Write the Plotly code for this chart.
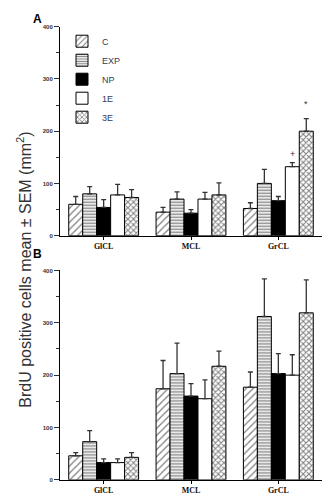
import plotly.graph_objects as go

categories = ["GlCL", "MCL", "GrCL"]
groups = ["C", "EXP", "NP", "1E", "3E"]

# Panel A: means and upper SEM
a_mean = {
    "C":   [60, 45, 52],
    "EXP": [80, 70, 100],
    "NP":  [54, 43, 67],
    "1E":  [78, 70, 132],
    "3E":  [73, 78, 200],
}
a_sem = {
    "C":   [15, 9, 11],
    "EXP": [14, 14, 27],
    "NP":  [15, 7, 8],
    "1E":  [20, 13, 8],
    "3E":  [15, 23, 24],
}
# Panel B
b_mean = {
    "C":   [46, 174, 177],
    "EXP": [73, 203, 312],
    "NP":  [33, 160, 203],
    "1E":  [33, 155, 200],
    "3E":  [43, 217, 319],
}
b_sem = {
    "C":   [6, 54, 29],
    "EXP": [21, 58, 72],
    "NP":  [7, 24, 38],
    "1E":  [7, 36, 39],
    "3E":  [9, 29, 63],
}

# significance marks in panel A (GrCL)
sig_groups = ["1E", "3E"]
sig_marks = ["+", "*"]
sig_y = [157, 252]

y_ticks = [0, 100, 200, 300, 400]

patterns = {
    "C":   dict(shape="/", fgcolor="black", bgcolor="white", size=5, solidity=0.25),
    "EXP": dict(shape="-", fgcolor="black", bgcolor="white", size=3, solidity=0.45),
    "NP":  dict(shape="", fgcolor="black", bgcolor="black"),
    "1E":  dict(shape="", fgcolor="white", bgcolor="white"),
    "3E":  dict(shape="x", fgcolor="black", bgcolor="white", size=4, solidity=0.45),
}
fills = {"C": "white", "EXP": "white", "NP": "black", "1E": "white", "3E": "white"}

W, H = 323, 497
fig = go.Figure()

for panel, (means, sems, xa, ya) in enumerate([(a_mean, a_sem, "x", "y"), (b_mean, b_sem, "x2", "y2")]):
    for g in groups:
        fig.add_trace(go.Bar(
            x=categories, y=means[g], name=g, xaxis=xa, yaxis=ya,
            showlegend=(panel == 0), legendgroup=g,
            marker=dict(color=fills[g], pattern=patterns[g],
                        line=dict(color="black", width=1)),
            error_y=dict(type="data", symmetric=False, array=sems[g],
                         arrayminus=[0] * len(categories),
                         color="#333333", thickness=1.3, width=2.5),
        ))

# significance markers
n = len(groups)
slot_px = (322 - 60) / len(categories)
bar_px = slot_px * 0.8 / n
for g, m, yv in zip(sig_groups, sig_marks, sig_y):
    idx = groups.index(g)
    fig.add_annotation(x="GrCL", y=yv, xref="x", yref="y", text=m, showarrow=False,
                       xshift=(idx - (n - 1) / 2) * bar_px,
                       font=dict(size=9, color="#333333", family="Liberation Sans"))

xdom = [60 / W, 322 / W]
ydomA = [1 - 235.5 / H, 1 - 24 / H]
ydomB = [1 - 482.7 / H, 1 - 270.7 / H]

xcommon = dict(type="category", showline=True, linecolor="black", linewidth=1,
               ticks="outside", ticklen=3, tickcolor="black",
               tickfont=dict(family="Liberation Serif", size=8, color="#111111", weight="bold"),
               showgrid=False, zeroline=False, domain=xdom)
ycommon = dict(range=[0, 400], tickvals=y_ticks, showline=True, linecolor="black", linewidth=1,
               ticks="outside", ticklen=5, tickcolor="#333333",
               minor=dict(dtick=50, ticks="outside", ticklen=3, tickcolor="#333333"),
               tickfont=dict(family="Liberation Sans", size=6, color="#333333", weight="bold"),
               showgrid=False, zeroline=False)

fig.update_layout(
    width=W, height=H,
    margin=dict(l=0, r=0, t=0, b=0),
    paper_bgcolor="white", plot_bgcolor="white",
    barmode="group", bargap=0.2, bargroupgap=0,
    xaxis=dict(**xcommon, anchor="y"),
    yaxis=dict(**ycommon, domain=ydomA, anchor="x"),
    xaxis2=dict(**xcommon, anchor="y2"),
    yaxis2=dict(**ycommon, domain=ydomB, anchor="x2"),
    legend=dict(x=62 / W, y=1 - 24 / H, xanchor="left", yanchor="top",
                bgcolor="rgba(0,0,0,0)", tracegroupgap=0, itemwidth=30,
                font=dict(family="Liberation Sans", size=9, color="#2f3d5c")),
    showlegend=True,
)

fig.add_annotation(x=31 / W, y=1 - 7 / H, xref="paper", yref="paper", text="<b>A</b>",
                   showarrow=False, font=dict(family="Liberation Sans", size=12, color="black"))
fig.add_annotation(x=31 / W, y=1 - 254 / H, xref="paper", yref="paper", text="<b>B</b>",
                   showarrow=False, font=dict(family="Liberation Sans", size=12, color="black"))
fig.add_annotation(x=12 / W, y=1 - 270 / H, xref="paper", yref="paper",
                   text="BrdU positive cells mean ± SEM (mm<sup>2</sup>)", textangle=-90,
                   showarrow=False, font=dict(family="Liberation Sans", size=16, color="#333333"))

fig.write_html("out.html", config={"displayModeBar": False},
               post_script="document.body.style.margin='0';document.body.style.overflow='hidden';")
